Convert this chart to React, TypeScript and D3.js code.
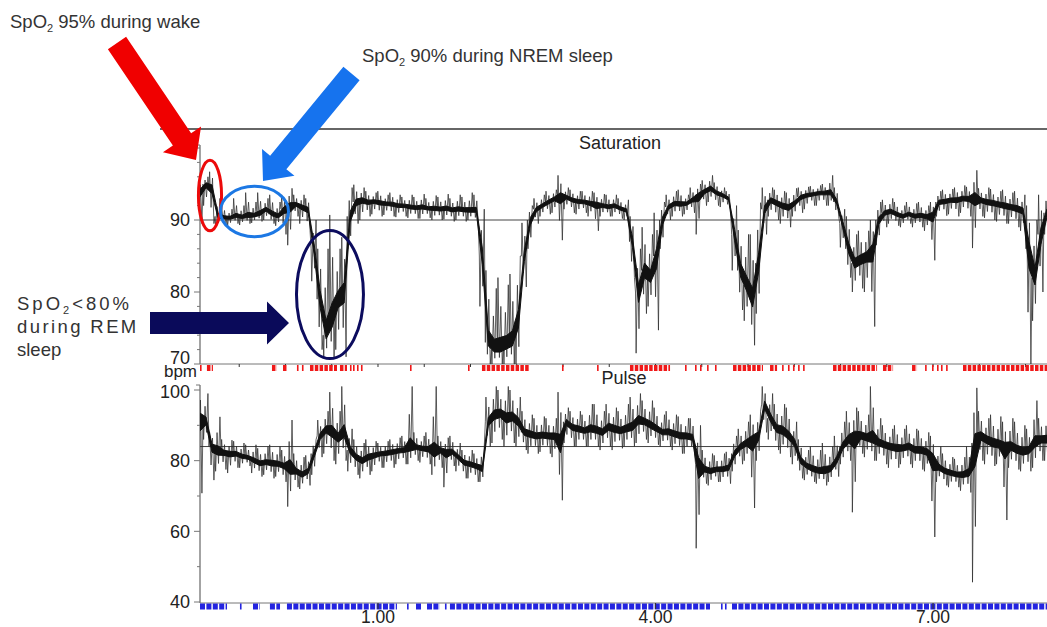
import React from 'react';
import * as d3 from 'd3';

// time axis in hours relative to midnight (negative = before midnight)
const T_START = -0.924;
const T_END = 8.232;
const hourTicks = [1, 4, 7];
const hourLabels = ['1.00', '4.00', '7.00'];

const satTickLabels = [70, 80, 90];
const pulseTickLabels = [40, 60, 80, 100];
const satReference = 90;
const pulseReference = 84;

// SpO2 (%) — typical level, lower and upper excursions per sample, evenly spaced in time
const satCore = [94,95,94.5,90.5,90.3,90.3,90.5,90.4,90.5,90.6,90.8,91.5,90.8,90.5,91.5,92,92.2,91.8,91.5,86,79,74,76,79,80,90.5,92.5,92.8,92.5,92.6,92.4,92.3,92.2,92,92,91.8,91.7,91.8,91.6,91.6,91.5,91.6,91.4,91.5,91.4,91.3,91.4,85,73,72,72,72.5,73,76,85,90,91.5,92,92.5,93,93.3,93.2,92.8,92.6,92.5,92.3,92.2,92,91.8,92,91.6,91.3,87,80,83,82,85,90,91.8,92.3,92.2,92.3,92.8,93.5,94,94.4,93.8,93.5,93,88,83,81,79,84,91.5,92.8,92.4,92,91.8,92.3,93.2,93.5,93.6,93.8,93.8,93.8,92.5,89.5,86,84,84.5,85,86,90,91,91.2,90.8,90.5,90.8,90.5,90.6,90.5,90.8,92.5,92.6,92.8,92.8,93,93,93.2,92.8,92.5,92.4,92.2,92,91.8,91.6,91.3,86,82,88,91];
const satLow = [89.5,92,89.5,89,89.4,89.2,89.5,89.3,89.5,89.6,89.8,90,89.5,89.2,88,86.5,90.5,89.5,88.5,81.5,72,71,70.8,72,71,86,89.5,90,90.5,90.8,90.5,90.7,90.5,90.4,90.5,90.3,90.2,90.2,90.3,90,90,90.1,89.8,90,89.8,90,89.5,78,70,70,70,70,70,70,80.7,86,89.5,90.5,90.8,91,87.2,91.5,91,90.8,91,90.5,88.5,90.5,90.5,90.5,90.2,90,82,71.5,77,78,74.7,86,90,90.5,90.5,90.8,91,88,92,92.5,92,91.8,91.5,83,77.5,76,72.6,77,88,90.5,90,89.5,89,90.5,91,91.5,92,92,92,92,90.5,86.2,82,80,80.5,80,75.2,86.5,89,89.5,89.2,89,89.5,89,89,88.5,84.4,90.5,90.6,90.8,90.5,91,90.5,86.1,90.5,90.3,90,89.8,89.5,89.5,89,88.5,70,76,80,88];
const satHigh = [95.5,96,96.7,93,92,91.5,93,92,93.8,92.5,93.8,93,93.5,92.5,93.5,94.4,93.5,93.5,93,90,86,86,90.7,86,87.6,94.5,94.9,94.5,94,93.8,94,93.5,93.8,93.5,93.2,93.5,93.2,93.6,93,93.4,93.2,93.6,93,93.5,93.2,93.8,93.5,91.5,83,80.5,82,81,82.5,85,89.6,92,93,93.5,94,94.2,96.2,94.5,94.2,94,94,94,93.8,93.6,93.5,93.5,93,92.8,90.5,86,89,88,91,92.5,93.5,94,94.2,93.5,94.5,95,95.5,96.2,95.2,94.5,94,92,88.6,88,88,92.4,94.5,94.5,94.2,94,93.8,94.4,94.5,94.6,94.7,94.8,95,96.2,94.5,91.5,90.5,88,88.5,88.5,90,92.5,92.8,93,92.5,92,92.5,92.3,92.5,92,92.5,94,94.2,94.3,94.5,94.8,94.6,96.9,94.4,94.5,94.3,94,94.2,93.8,94,93.5,92,90,93.5,94];

// Pulse (bpm)
const pulseCore = [92,91,84,82.5,82.3,82,82,81.2,80.8,80,79.2,79.5,79.2,79,78.5,78,77,76,77,82,87,89,88,86.5,88,83,81,80,81,81.5,82,82.2,82.5,82.8,83,83.5,83.8,83.5,83.2,82,83,82.5,82.5,81,79.5,79,78.5,77.5,91,93,93.5,92,92.5,91,88,87.5,87,87.2,87,87,85,91,89.5,89,88.5,89,88.5,88,89.5,89,88.5,89,89.5,91.5,91,90,89,88,88,87.5,87,87,86.5,79,77.5,77,77.5,77.5,78,82,84,85,86,87,96,92,89,88.5,87,85,80,78.5,77.5,77,77,77.5,80,84,86,87,87,86.5,86,85,84.5,84,83.5,83.5,84,83,83,82.5,81,78,77,76.5,76,76,76.5,85,87,86,85,84.5,84,84,83,82.5,83,85,86,86];
const pulseLow = [70.8,86,74.5,77,77.5,76.5,78,78,78.5,76.5,75.5,76,75,75.5,74,67,72.5,72,73,76,81,82,80,79,80,77,76,75,76,77,78,78,78,79,79,79,80,79.5,79,76,78,72.5,78.5,77,75,75,74,74,84,85,86,84,85,84,83,82,82,82.5,82,81,68.8,85,84,84,84,84,84,83,84,83,83.5,84,84,85,86,85,84.5,84,84,83,82,82,82,55.2,73.5,73,74,74,73.5,77,79,80,66.6,80,88,86,83,82,81,79,75,74.5,74,73.5,73,74,75.5,79,80,65.4,82,81,80,80,79,78,78,79,79,78,77.5,77,58.4,74,73,72.5,72.5,71.5,71,45.6,80,79,78.5,79,63.2,78,77.5,77,77,78,80,80];
const pulseHigh = [100.6,99,88,92.4,86,85.8,85.5,85,84.5,84.5,83.5,84,84.5,84,83,91.5,82,81,81.5,86,91.5,94,99.4,94,101,89,86,85,86,85.5,85,85.5,86,86.5,87,101,88,87,88,101,87,86.5,87,85,83,83,82,84,98,101,100,101,100,98,94,93,92,92.5,92,92,99.4,95,94,94,93,96,96,94,96,95,94,96,98,99,97,97,95,93,94,93,92.5,92,92,90,83,82,81.5,82,82.5,87,89,91,93,94,101,99,96,96,95,91,86,83,84,83,85,84,87,91,94,95,94,93,101,92,90,89,90,89,90,89,88.5,88,87,84,82,81,80.5,81,84,100.6,94,92,93,92.5,91,92,91,90,89,97,92,93];

// desaturation event markers (hours, start/end)
const desatEvents = [[-0.924,-0.903],[-0.849,-0.784],[-0.146,-0.092],[-0.027,0.016],[0.124,0.124],[0.178,0.178],[0.265,0.557],[0.589,0.665],[0.697,0.697],[0.73,0.73],[0.773,0.773],[0.816,0.816],[1.346,1.346],[1.973,1.973],[2.124,2.643],[2.989,2.989],[3.368,3.368],[3.724,4.157],[4.319,4.319],[4.427,4.427],[4.481,4.481],[4.557,4.557],[4.643,4.643],[4.838,5.162],[5.238,5.314],[5.368,5.368],[5.432,5.432],[5.486,5.486],[5.541,5.541],[5.595,5.595],[5.919,6.395],[6.459,6.568],[6.773,6.827],[6.914,6.914],[6.989,6.989],[7.043,7.043],[7.086,7.086],[7.141,7.141],[7.324,8.232]];
// pulse event markers
const pulseEvents = [[-0.924,-0.632],[-0.492,-0.482],[-0.351,-0.276],[-0.168,-0.059],[0.016,1.205],[1.314,1.314],[1.411,1.465],[1.53,1.67],[1.724,1.724],[1.778,4.589],[4.708,4.708],[4.751,4.751],[4.827,8.232]];

const FONT = '"Liberation Sans", Arial, Helvetica, sans-serif';

function arrowPoints(tail: number[], tip: number[], shaftW: number, headW: number, headL: number) {
  const dx = tip[0] - tail[0], dy = tip[1] - tail[1];
  const len = Math.hypot(dx, dy);
  const ux = dx / len, uy = dy / len;
  const px = -uy, py = ux;
  const bx = tip[0] - ux * headL, by = tip[1] - uy * headL;
  const pts = [
    [tail[0] + px * shaftW / 2, tail[1] + py * shaftW / 2],
    [bx + px * shaftW / 2, by + py * shaftW / 2],
    [bx + px * headW / 2, by + py * headW / 2],
    tip,
    [bx - px * headW / 2, by - py * headW / 2],
    [bx - px * shaftW / 2, by - py * shaftW / 2],
    [tail[0] - px * shaftW / 2, tail[1] - py * shaftW / 2],
  ];
  return pts.map(p => p.join(',')).join(' ');
}

export default function App() {
  const x = d3.scaleLinear().domain([T_START, T_END]).range([200, 1047]);
  const ySat = d3.scaleLinear().domain([70, 100]).range([364, 148]);
  const yPulse = d3.scaleLinear().domain([40, 100]).range([602, 390]);
  const n = satCore.length;
  const step = (T_END - T_START) / (n - 1);
  const times = d3.range(n).map(i => T_START + i * step);

  // min/max rendering of the dense signal: per sample full and partial excursions low↔high
  const zigzag = (core: number[], lo: number[], hi: number[], y: d3.ScaleLinear<number, number>) => {
    const pts: [number, number][] = [];
    core.forEach((c, i) => {
      const t = times[i];
      const h = hi[i], l = lo[i];
      const up = i % 2 === 0;
      const seq = up
        ? [h, c - 0.55 * (c - l), c + 0.6 * (h - c), l]
        : [l, c + 0.55 * (h - c), c - 0.6 * (c - l), h];
      pts.push([x(t - step * 0.5), y(c)]);
      seq.forEach((v, k) => pts.push([x(t - step * 0.4 + k * step * 0.24), y(v)]));
    });
    pts.push([x(times[n - 1] + step * 0.5), y(core[n - 1])]);
    return d3.line()(pts) || '';
  };
  // dense core band of the trace
  const band = (core: number[], lo: number[], hi: number[], y: d3.ScaleLinear<number, number>) =>
    d3.area<number>()
      .x((_, i) => x(times[i]))
      .y0((c, i) => y(c - 0.17 * (c - lo[i])))
      .y1((c, i) => y(c + 0.17 * (hi[i] - c)))(core) || '';

  const eventMarks = (events: number[][], y0: number, color: string, dash: string, key: string) =>
    events.map(([a, b], i) => {
      const x0 = x(a), x1 = x(b);
      if (x1 - x0 < 2) return <rect key={key + i} x={x0} y={y0} width={1.6} height={6} fill={color} />;
      return <line key={key + i} x1={x0} x2={x1} y1={y0 + 3} y2={y0 + 3} stroke={color} strokeWidth={6} strokeDasharray={dash} />;
    });

  const satMinor = d3.range(70, 101, 2);
  const pulseMinor = d3.range(40, 101, 10);
  const halfHours = d3.range(-0.5, 8.3, 0.5);

  const ellipses = [
    { t: -0.816, v: 93.4, rt: 0.125, rv: 4.9, color: '#ec0a0a' },
    { t: -0.335, v: 91.18, rt: 0.368, rv: 3.5, color: '#1c78e4' },
    { t: 0.481, v: 79.65, rt: 0.362, rv: 8.9, color: '#0c0c5e' },
  ];

  return (
    <svg width={1047} height={627} style={{ position: 'absolute', left: 0, top: 0, display: 'block', background: '#fff' }} fontFamily={FONT}>
      <defs>
        <clipPath id="satClip"><rect x={200} y={140} width={847} height={225} /></clipPath>
        <clipPath id="pulseClip"><rect x={200} y={383} width={847} height={220} /></clipPath>
      </defs>
      <rect x={0} y={0} width={1047} height={627} fill="#fff" />

      {/* Saturation panel frame */}
      <line x1={160} x2={1047} y1={129} y2={129} stroke="#333" strokeWidth={1.6} />
      <line x1={200} x2={200} y1={145} y2={364} stroke="#666" strokeWidth={1.2} />
      <line x1={200} x2={1047} y1={364} y2={364} stroke="#777" strokeWidth={1} />
      {satMinor.map(v => (
        <line key={'st' + v} x1={v % 10 === 0 ? 194 : 197} x2={200} y1={ySat(v)} y2={ySat(v)} stroke="#777" strokeWidth={1} />
      ))}
      <line x1={196} x2={200} y1={145} y2={145} stroke="#777" />
      {satTickLabels.map(v => (
        <text key={'sl' + v} x={190} y={ySat(v) - (v === 70 ? 6 : 0)} dy="0.35em" textAnchor="end" fontSize={18} fill="#222">{v}</text>
      ))}
      <line x1={200} x2={1047} y1={ySat(satReference)} y2={ySat(satReference)} stroke="#444" strokeWidth={1} />
      <text x={620} y={149} textAnchor="middle" fontSize={18} fill="#222">Saturation</text>
      {halfHours.map(h => (
        <line key={'hh' + h} x1={x(h)} x2={x(h)} y1={364} y2={367} stroke="#333" strokeWidth={1} />
      ))}

      <g clipPath="url(#satClip)">
        <path d={zigzag(satCore, satLow, satHigh, ySat)} fill="none" stroke="#2e2e2e" strokeWidth={0.75} />
        <path d={band(satCore, satLow, satHigh, ySat)} fill="#111" stroke="#111" strokeWidth={1} />
      </g>
      {eventMarks(desatEvents, 365, '#f01818', '3.5 1.3', 'de')}

      {/* Pulse panel */}
      <text x={197} y={377} textAnchor="end" fontSize={17} fill="#222">bpm</text>
      <text x={624} y={384} textAnchor="middle" fontSize={18} fill="#222">Pulse</text>
      <line x1={200} x2={200} y1={385} y2={603} stroke="#666" strokeWidth={1.2} />
      <line x1={196} x2={200} y1={385} y2={385} stroke="#777" />
      {pulseMinor.map(v => (
        <line key={'pt' + v} x1={v % 20 === 0 ? 194 : 197} x2={200} y1={yPulse(v)} y2={yPulse(v)} stroke="#777" strokeWidth={1} />
      ))}
      {pulseTickLabels.map(v => (
        <text key={'pl' + v} x={190} y={yPulse(v) + (v === 100 ? 2 : 0)} dy="0.35em" textAnchor="end" fontSize={18} fill="#222">{v}</text>
      ))}
      <line x1={200} x2={1047} y1={yPulse(pulseReference)} y2={yPulse(pulseReference)} stroke="#444" strokeWidth={1} />
      <g clipPath="url(#pulseClip)">
        <path d={zigzag(pulseCore, pulseLow, pulseHigh, yPulse)} fill="none" stroke="#2e2e2e" strokeWidth={0.75} />
        <path d={band(pulseCore, pulseLow, pulseHigh, yPulse)} fill="#111" stroke="#111" strokeWidth={1} />
      </g>
      <line x1={200} x2={1047} y1={603} y2={603} stroke="#777" strokeWidth={1} />
      {eventMarks(pulseEvents, 603.5, '#2424e0', '5 1.4', 'pe')}
      {hourTicks.map((h, i) => (
        <g key={'ht' + h}>
          <line x1={x(h)} x2={x(h)} y1={603} y2={609} stroke="#333" strokeWidth={1.2} />
          <text x={x(h)} y={623} textAnchor="middle" fontSize={17.5} fill="#222">{hourLabels[i]}</text>
        </g>
      ))}

      {/* Annotations */}
      {ellipses.map((e, i) => (
        <ellipse key={'el' + i} cx={x(e.t)} cy={ySat(e.v)} rx={x(e.t + e.rt) - x(e.t)} ry={ySat(e.v) - ySat(e.v + e.rv)} fill="none" stroke={e.color} strokeWidth={3} />
      ))}
      <polygon points={arrowPoints([117, 43], [196, 160], 22, 46, 25)} fill="#f00000" />
      <polygon points={arrowPoints([351.5, 73.5], [263, 181], 21, 42, 24)} fill="#1673ee" />
      <polygon points={arrowPoints([150, 323], [289, 323], 22, 43, 22)} fill="#0a0a5a" />

      <text x={10} y={28} fontSize={18.5} fill="#333">
        SpO<tspan fontSize={11} dy={4}>2</tspan><tspan dy={-4}> 95% during wake</tspan>
      </text>
      <text x={362} y={62} fontSize={18.5} fill="#333">
        SpO<tspan fontSize={11} dy={4}>2</tspan><tspan dy={-4}> 90% during NREM sleep</tspan>
      </text>
      <text x={17} y={310} fontSize={18.5} fill="#333" letterSpacing={3}>
        SpO<tspan fontSize={11} dy={4}>2</tspan><tspan dy={-4}>&lt;80%</tspan>
      </text>
      <text x={17} y={333} fontSize={18.5} fill="#333" letterSpacing={2.4}>during REM</text>
      <text x={17} y={356} fontSize={18.5} fill="#333">sleep</text>
    </svg>
  );
}
